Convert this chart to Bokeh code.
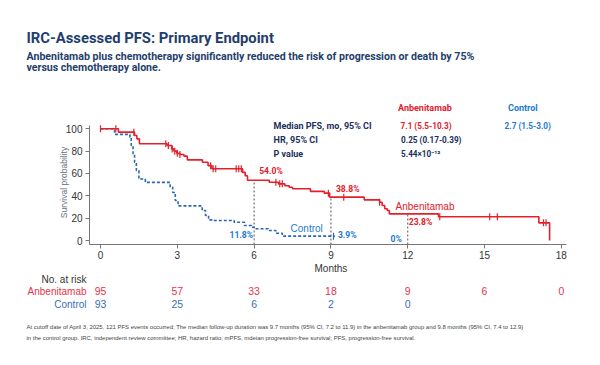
import numpy as np
from bokeh.plotting import figure
from bokeh.layouts import column
from bokeh.models import Label, Range1d, FixedTicker
from bokeh.embed import file_html
from bokeh.resources import INLINE

# ---------------- data ----------------
month_ticks = [0, 3, 6, 9, 12, 15, 18]
surv_ticks = [0, 20, 40, 60, 80, 100]

anb_t = [0, 0.7, 1.33, 1.42, 1.52, 2.6, 2.78, 2.87, 2.98, 3.1, 3.26, 3.39, 3.98, 4.2, 4.35,
         5.55, 5.65, 5.74, 6.59, 6.95, 7.2, 7.37, 7.5, 8.2, 8.74, 8.95, 10.3, 10.9, 11.0,
         11.1, 11.2, 11.28, 13.2, 17.12, 17.54]
anb_s = [100, 97, 94, 91, 86.6, 85, 82, 80, 78, 77, 75.5, 72.2, 70, 67, 64.2,
         61, 58, 54.0, 52.2, 50.7, 49, 47.7, 46.3, 44, 42.4, 38.8, 36.4, 34.3, 31.3,
         28.4, 26.9, 23.8, 21.2, 15.8, 0]
anb_cens = [0, 0.6, 1.3, 2.55, 2.65, 2.8, 2.9, 3.0, 3.1, 4.3, 4.4, 4.5, 5.3, 5.4, 5.5,
            6.85, 7.0, 7.1, 8.9, 9.5, 10.9, 13.25, 15.2, 15.5, 17.3, 17.4]

ctl_t = [0, 0.55, 1.15, 1.2, 1.27, 1.33, 1.4, 1.5, 1.75, 2.72, 2.82, 2.92, 3.03, 3.97,
         4.1, 4.22, 4.35, 5.22, 5.62, 5.9, 6.05, 6.55, 6.85, 7.1, 9.15]
ctl_s = [100, 95, 92.5, 85, 77.6, 70, 62.7, 55, 52, 47.7, 43, 35.8, 31, 26.9,
         22.4, 18.5, 17.9, 16.4, 13.4, 11.8, 10.5, 9, 6.5, 3.9, 3.9]
ctl_cens = [9.1]

landmark_months = [6, 9, 12]
anb_landmark = [54.0, 38.8, 23.8]
ctl_landmark = [11.8, 3.9, 0]

risk_months = [0, 3, 6, 9, 12, 15, 18]
anb_risk = [95, 57, 33, 18, 9, 6, 0]
ctl_risk = [93, 25, 6, 2, 0]

arms = ["Anbenitamab", "Control"]
median_pfs = ["7.1 (5.5-10.3)", "2.7 (1.5-3.0)"]
hr_text = "0.25 (0.17-0.39)"
p_text = "5.44\u00d710\u207b\u00b9\u00b2"

title = "IRC-Assessed PFS: Primary Endpoint"
subtitle = ["Anbenitamab plus chemotherapy significantly reduced the risk of progression or death by 75%",
            "versus chemotherapy alone."]
footnote = ["At cutoff date of April 3, 2025, 121 PFS events occurred; The median follow-up duration was 9.7 months (95% CI, 7.2 to 11.9) in the anbenitamab group and 9.8 months (95% CI, 7.4 to 12.9)",
            "in the control group. IRC, independent review committee; HR, hazard ratio; mPFS, mdeian progression-free survival; PFS, progression-free survival."]

# ---------------- style ----------------
RED = "#e3202b"
BLUE = "#2a66b3"
LBLUE = "#1b7ad0"
NAVY = "#1c2f5c"
TNAVY = "#1f3e6d"
GRAY = "#333333"
BOLDF = "Roboto"
SANS = "Liberation Sans"

W = 592
PXM = 25.6      # px per month
PXS = 1.117     # px per % survival
TOP_H = 120     # page y where main figure starts
MAIN_BOTTOM = 262
FRAME_BOTTOM = 244
TOTAL_H = 357

X0, X1 = -0.43, 18.2
Y0 = (240 - FRAME_BOTTOM) / PXS
Y1 = (240 - TOP_H) / PXS


def dx(px):
    return (px - 100) / PXM


def dy(py):
    return (240 - py) / PXS


def step_value(ts, ss, t):
    v = ss[0]
    for ti, si in zip(ts, ss):
        if ti <= t:
            v = si
    return v


def blank(height, x_range, y_range):
    f = figure(width=W, height=height, output_backend="svg", toolbar_location=None,
               x_range=x_range, y_range=y_range, x_axis_type=None, y_axis_type=None,
               min_border=0, frame_align=False)
    f.outline_line_color = None
    f.grid.visible = False
    return f


def lab(f, x, y, text, color, size, font=SANS, style="normal", align="left",
        baseline="middle", xo=0, yo=0, angle=0):
    f.add_layout(Label(x=x, y=y, text=text, text_color=color, text_font_size=size,
                       text_font=font, text_font_style=style, text_align=align,
                       text_baseline=baseline, x_offset=xo, y_offset=yo, angle=angle))


# ---------------- top: titles + table header ----------------
top = blank(TOP_H, Range1d(0, W), Range1d(TOP_H, 0))
lab(top, 26, 37.3, title, TNAVY, "14.8px", BOLDF, "bold", baseline="alphabetic")
lab(top, 26, 55.7, subtitle[0], TNAVY, "10.6px", BOLDF, "bold", baseline="alphabetic")
lab(top, 26, 66.7, subtitle[1], TNAVY, "10.6px", BOLDF, "bold", baseline="alphabetic")
TB = "9px"
NB = "8.2px"
lab(top, 397.5, 107, arms[0], RED, TB, BOLDF, "bold")
lab(top, 507.5, 107, arms[1], LBLUE, TB, BOLDF, "bold")

# ---------------- main KM plot ----------------
p = figure(width=W, height=MAIN_BOTTOM - TOP_H, output_backend="svg", toolbar_location=None,
           x_range=Range1d(X0, X1), y_range=Range1d(Y0, Y1), frame_align=False,
           min_border_left=89, min_border_right=W - 566, min_border_top=0,
           min_border_bottom=MAIN_BOTTOM - FRAME_BOTTOM)
p.outline_line_color = None
p.grid.visible = False

for ax in (p.xaxis[0], p.yaxis[0]):
    ax.axis_line_color = "#777777"
    ax.major_tick_line_color = "#777777"
    ax.major_tick_out = 4
    ax.major_tick_in = 0
    ax.minor_tick_line_color = None
    ax.major_label_text_font = SANS
    ax.major_label_text_font_size = "10px"
    ax.major_label_text_color = GRAY
p.xaxis.ticker = FixedTicker(ticks=month_ticks)
p.yaxis.ticker = FixedTicker(ticks=surv_ticks)
p.xaxis.bounds = (X0, X1)
p.yaxis.bounds = (Y0, 103)
p.xaxis.major_label_standoff = 2
p.yaxis.major_label_standoff = 3
p.yaxis.axis_label = "Survival probability"
p.yaxis.axis_label_text_font = SANS
p.yaxis.axis_label_text_font_style = "normal"
p.yaxis.axis_label_text_font_size = "8.5px"
p.yaxis.axis_label_text_color = "#6b7280"
p.yaxis.axis_label_standoff = -6

# landmark dashed lines
p.segment(x0=landmark_months, y0=[Y0] * 3, x1=landmark_months, y1=anb_landmark,
          line_color="#555555", line_dash="2 2", line_width=1)

# curves
p.step(ctl_t, ctl_s, mode="after", line_color=BLUE, line_width=1.6, line_dash="3 2")
p.step(anb_t, anb_s, mode="after", line_color=RED, line_width=1.6)

anb_cy = [step_value(anb_t, anb_s, t) for t in anb_cens]
ctl_cy = [step_value(ctl_t, ctl_s, t) for t in ctl_cens]
p.scatter(anb_cens, anb_cy, marker="dash", angle=np.pi / 2, size=7, line_color=RED, line_width=1.2)
p.scatter(ctl_cens, ctl_cy, marker="dash", angle=np.pi / 2, size=7, line_color=BLUE, line_width=1.2)

# landmark labels
PCT = "8.6px"
lab(p, landmark_months[0], anb_landmark[0], f"{anb_landmark[0]:.1f}%", RED, PCT, BOLDF, "bold", "left", xo=5, yo=9)
lab(p, landmark_months[1], anb_landmark[1], f"{anb_landmark[1]:.1f}%", RED, PCT, BOLDF, "bold", "left", xo=5, yo=8)
lab(p, landmark_months[2], anb_landmark[2], f"{anb_landmark[2]:.1f}%", RED, PCT, BOLDF, "bold", "left", xo=1, yo=-8)
lab(p, landmark_months[0], ctl_landmark[0], f"{ctl_landmark[0]:.1f}%", LBLUE, PCT, BOLDF, "bold", "right", xo=-1, yo=-8)
lab(p, landmark_months[1], ctl_landmark[1], f"{ctl_landmark[1]:.1f}%", LBLUE, PCT, BOLDF, "bold", "left", xo=7, yo=1)
lab(p, landmark_months[2], ctl_landmark[2], f"{ctl_landmark[2]:.0f}%", LBLUE, PCT, BOLDF, "bold", "right", xo=-6, yo=2)

# curve names
lab(p, dx(290), dy(227.5), arms[1], LBLUE, "10px")
lab(p, dx(395), dy(205.5), arms[0], RED, "10px")

# summary table body
lab(p, dx(273), dy(125), "Median PFS, mo, 95% CI", NAVY, TB, BOLDF, "bold")
lab(p, dx(273), dy(139), "HR, 95% CI", NAVY, TB, BOLDF, "bold")
lab(p, dx(273), dy(153.5), "P value", NAVY, TB, BOLDF, "bold")
lab(p, dx(400), dy(125), median_pfs[0], RED, NB, BOLDF, "bold")
lab(p, dx(504), dy(125), median_pfs[1], LBLUE, NB, BOLDF, "bold")
lab(p, dx(400.5), dy(139), hr_text, NAVY, NB, BOLDF, "bold")
lab(p, dx(400.5), dy(153.5), p_text, NAVY, NB, BOLDF, "bold")

# ---------------- bottom: months title, risk table, footnote ----------------
bot = blank(TOTAL_H - MAIN_BOTTOM, Range1d(dx(0), dx(W)), Range1d(TOTAL_H, MAIN_BOTTOM))
lab(bot, 9, 267.5, "Months", GRAY, "10px", SANS, "normal", "center")
lab(bot, dx(86), 279, "No. at risk", GRAY, "10px", SANS, "normal", "right")
lab(bot, dx(86), 290.5, arms[0], "#e8344a", "10px", SANS, "normal", "right")
lab(bot, dx(86), 303.5, arms[1], "#3a6fb5", "10px", SANS, "normal", "right")
for m, n in zip(risk_months, anb_risk):
    lab(bot, m, 290.5, str(n), "#e8344a", "10.5px", SANS, "normal", "center")
for m, n in zip(risk_months, ctl_risk):
    lab(bot, m, 303.5, str(n), "#3a6fb5", "10.5px", SANS, "normal", "center")
lab(bot, dx(26), 326, footnote[0], "#444444", "5.95px", SANS, "normal")
lab(bot, dx(26), 337.5, footnote[1], "#444444", "5.95px", SANS, "normal")

layout = column(top, p, bot, spacing=0)
open("out.html", "w").write(file_html(layout, INLINE))
